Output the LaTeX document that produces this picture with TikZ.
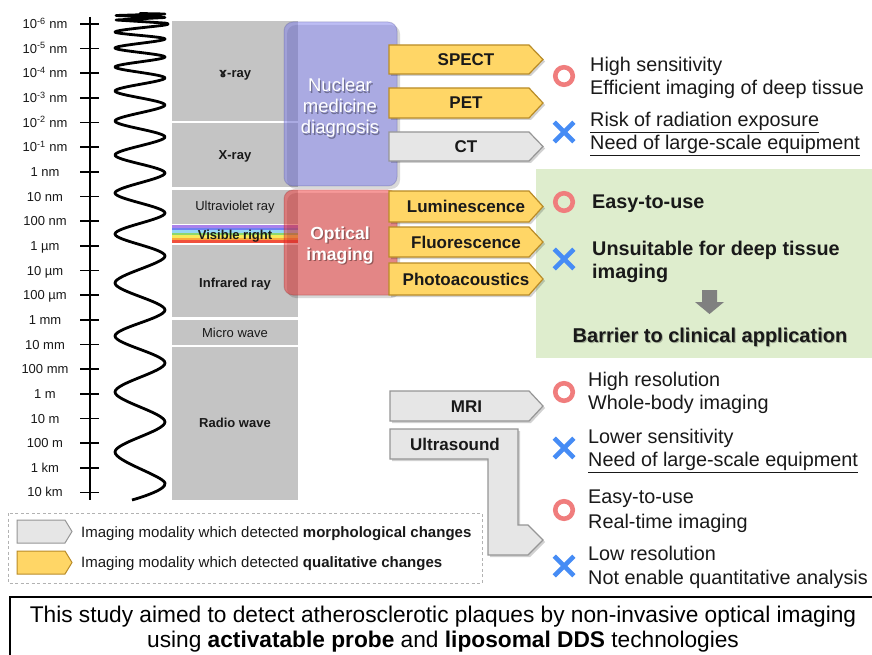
\documentclass[tikz,border=0pt]{standalone}
\usepackage{fontspec}
\setmainfont{Liberation Sans}
\newfontfamily\dejavu{DejaVu Sans}
\usetikzlibrary{shapes.misc}
\definecolor{specgrey}{RGB}{196,196,196}
\definecolor{nucblue}{RGB}{125,125,235}
\definecolor{optred}{RGB}{238,52,52}
\definecolor{tagyel}{RGB}{255,214,102}
\definecolor{tagyelb}{RGB}{185,140,40}
\definecolor{taggrey}{RGB}{230,230,230}
\definecolor{taggreyb}{RGB}{150,150,150}
\definecolor{ringc}{RGB}{240,125,125}
\definecolor{crossc}{RGB}{70,140,245}
\definecolor{greenbox}{RGB}{222,237,205}
\definecolor{txt}{RGB}{25,25,25}
\definecolor{arrowgrey}{RGB}{128,128,128}
\definecolor{rbA}{RGB}{170,130,235}
\definecolor{rbB}{RGB}{110,130,240}
\definecolor{rbC}{RGB}{150,215,245}
\definecolor{rbD}{RGB}{140,215,110}
\definecolor{rbE}{RGB}{245,235,90}
\definecolor{rbF}{RGB}{250,170,60}
\definecolor{rbG}{RGB}{240,80,60}
\newcommand{\fsz}[2]{\fontsize{#1}{#2}\selectfont}
% tag arrow: name, xleft, ytop, ybot, style, text
\newcommand{\mtag}[6]{%
  \fill[black,opacity=0.18] (#2+2,#3+2) -- (531,#3+2) -- (545,{(#3+#4)/2+2}) -- (531,#4+2) -- (#2+2,#4+2) -- cycle;
  \filldraw[#5] (#2,#3) -- (529,#3) -- (543,{(#3+#4)/2}) -- (529,#4) -- (#2,#4) -- cycle;
  \node[tagtext] (#1) at ({(#2+543)/2},{(#3+#4)/2+6}) {#6};
}
\begin{document}
\begin{tikzpicture}[x=1pt,y=-1pt,
  axlab/.style={anchor=base, font=\fsz{13}{15}, text=txt, inner sep=0},
  speclab/.style={anchor=base, font=\fsz{13}{15}, text=txt, inner sep=0},
  speclabb/.style={anchor=base, font=\fsz{13}{15}\bfseries, text=txt, inner sep=0},
  tagtext/.style={anchor=base, font=\fsz{17}{20}\bfseries, text=txt, inner sep=0},
  yeltag/.style={fill=tagyel, draw=tagyelb, line width=1.2pt, line join=miter},
  greytag/.style={fill=taggrey, draw=taggreyb, line width=1.2pt, line join=miter},
  bigtext/.style={anchor=base, font=\fsz{18.5}{21}, text=white, inner sep=0},
  bigtextb/.style={anchor=base, font=\fsz{17.5}{21}\bfseries, text=white, inner sep=0},
  bigshadow/.style={text=black, opacity=0.35},
  rtext/.style={anchor=base west, font=\fsz{19.8}{23}, text=txt, inner sep=0},
  rtextb/.style={anchor=base west, font=\fsz{19.8}{23}\bfseries, text=txt, inner sep=0},
  ringmark/.style={circle, draw=ringc, line width=4.6pt, minimum size=17.5pt, inner sep=0},
  crossmark/.style={cross out, draw=crossc, line width=4.6pt, minimum size=15pt, inner sep=0},
  legtext/.style={anchor=base west, font=\fsz{15}{17}, text=txt, inner sep=0},
  foottext/.style={anchor=base, font=\fsz{22.7}{26}, text=black, inner sep=0}]
\useasboundingbox (0,0) rectangle (872,655);
\fill[white] (0,0) rectangle (872,655);

% ---------- wavelength axis ----------
\coordinate (axtop) at (90,17);
\coordinate (axbot) at (90,500);
\draw[line width=1.8pt] (axtop) -- (axbot);
\foreach \lab [count=\i from 0] in {10\textsuperscript{-6} nm,10\textsuperscript{-5} nm,10\textsuperscript{-4} nm,10\textsuperscript{-3} nm,10\textsuperscript{-2} nm,10\textsuperscript{-1} nm,1 nm,10 nm,100 nm,1 µm,10 µm,100 µm,1 mm,10 mm,100 mm,1 m,10 m,100 m,1 km,10 km}{
  \pgfmathsetmacro{\yy}{24+24.65*\i}
  \draw[line width=1.6pt] (80,\yy) -- (99,\yy);
  \node[axlab] (ax\i) at (45,\yy+4.6) {\lab};
}

% ---------- wave ----------
\draw[line width=2.8pt, line join=round, line cap=round] (140,13.5) -- (165,14) -- (116,15.5) -- (165,17.5) -- (116,20) -- (164,23);
\draw[line width=2.8pt, line join=round] plot[smooth, tension=0.55] coordinates {
 (164,23) (165,25) (115,32) (165,39) (115,48) (165,57)
 (115,67) (165,78) (115,91) (165,105) (115,121) (165,137) (115,155) (165,173) (115,193)
 (165,213) (115,234) (165,256) (115,283) (165,310) (115,336) (165,363) (115,392)
 (165,422) (115,452) (165,483) (132,500)};

% ---------- spectrum column ----------
\fill[specgrey] (172,21) rectangle (298,121);
\fill[specgrey] (172,123) rectangle (298,187);
\fill[specgrey] (172,190) rectangle (298,224);
\foreach \c [count=\k from 0] in {rbA,rbB,rbC,rbD,rbE,rbF,rbG}
  \fill[\c] (172,{225+\k*2.57}) rectangle (298,{225+(\k+1)*2.57+0.15});
\fill[specgrey] (172,245) rectangle (298,317);
\fill[specgrey] (172,320) rectangle (298,345);
\fill[specgrey] (172,347) rectangle (298,500);

\node[speclabb] (gam) at (235,78) {{\dejavu ɤ}-ray};
\node[speclabb] (xray) at (235,160) {X-ray};
\node[speclab] (uv) at (235,211) {Ultraviolet ray};
\node[speclabb] (vis) at (235,239) {Visible right};
\node[speclabb] (ir) at (235,287) {Infrared ray};
\node[speclab] (mw) at (235,337) {Micro wave};
\node[speclabb] (rw) at (235,427) {Radio wave};

% ---------- nuclear medicine box ----------
\fill[black, opacity=0.15, rounded corners=9] (287,25) rectangle (400,189);
\fill[nucblue, opacity=0.5, rounded corners=9] (284,22) rectangle (397,186);
\draw[nucblue!60!black, opacity=0.25, line width=1pt, rounded corners=9] (284,22) rectangle (397,186);
\node[bigtext, bigshadow] (nuc1s) at (341.3,93.3) {Nuclear};
\node[bigtext, bigshadow] (nuc2s) at (341.3,114.3) {medicine};
\node[bigtext, bigshadow] (nuc3s) at (341.3,135.3) {diagnosis};
\node[bigtext] (nuc1) at (340,92) {Nuclear};
\node[bigtext] (nuc2) at (340,113) {medicine};
\node[bigtext] (nuc3) at (340,134) {diagnosis};

% ---------- optical imaging box ----------
\fill[black, opacity=0.15, rounded corners=9] (287,193) rectangle (400,298);
\fill[optred, opacity=0.5, rounded corners=9] (284,190) rectangle (397,295);
\draw[optred!60!black, opacity=0.25, line width=1pt, rounded corners=9] (284,190) rectangle (397,295);
\node[bigtextb, bigshadow] (opt1s) at (341.3,240.3) {Optical};
\node[bigtextb, bigshadow] (opt2s) at (341.3,261.3) {imaging};
\node[bigtextb] (opt1) at (340,239) {Optical};
\node[bigtextb] (opt2) at (340,260) {imaging};

% ---------- green box ----------
\fill[greenbox] (536,169) rectangle (872,358);

% ---------- tags ----------
\mtag{spect}{389}{45}{74}{yeltag}{SPECT}
\mtag{pet}{389}{88}{118}{yeltag}{PET}
\mtag{ct}{389}{132}{161}{greytag}{CT}
\mtag{lum}{389}{191}{222}{yeltag}{Luminescence}
\mtag{flu}{389}{227}{257}{yeltag}{Fluorescence}
\mtag{pho}{389}{263}{295}{yeltag}{Photoacoustics}
\mtag{mri}{390}{391}{421}{greytag}{MRI}
% ultrasound L-shaped arrow
\fill[black,opacity=0.18] (392,431) -- (520,431) -- (520,527) -- (530,527) -- (545,542) -- (530,557) -- (490,557) -- (490,461) -- (392,461) -- cycle;
\filldraw[greytag] (390,429) -- (518,429) -- (518,525) -- (528,525) -- (543,540) -- (528,555) -- (488,555) -- (488,459) -- (390,459) -- cycle;
\node[tagtext] (us) at (455,450) {Ultrasound};

% ---------- marks and texts: nuclear ----------
\node[ringmark] (o1) at (564,76) {};
\node[crossmark] (x1) at (564,132) {};
\node[rtext] (t1a) at (590,71.5) {High sensitivity};
\node[rtext] (t1b) at (590,94.5) {Efficient imaging of deep tissue};
\node[rtext] (t2a) at (590,126.5) {\underline{Risk of radiation exposure}};
\node[rtext] (t2b) at (590,149.5) {\underline{Need of large-scale equipment}};

% ---------- optical ----------
\node[ringmark] (o2) at (564,202) {};
\node[crossmark] (x2) at (564,259) {};
\node[rtextb] (t3) at (592,208.5) {Easy-to-use};
\node[rtextb] (t4a) at (592,255.5) {Unsuitable for deep tissue};
\node[rtextb] (t4b) at (592,278.5) {imaging};
\fill[arrowgrey] (702,290) -- (717,290) -- (717,302) -- (724,302) -- (709.5,314) -- (695,302) -- (702,302) -- cycle;
\node[anchor=base, font=\fsz{20}{23}\bfseries, text=black, opacity=0.25, inner sep=0] (bars) at (711,343) {Barrier to clinical application};
\node[anchor=base, font=\fsz{20}{23}\bfseries, text=txt, inner sep=0] (bar) at (710,342) {Barrier to clinical application};

% ---------- MRI / ultrasound ----------
\node[ringmark] (o3) at (564,392) {};
\node[crossmark] (x3) at (564,448) {};
\node[ringmark] (o4) at (564,510) {};
\node[crossmark] (x4) at (564,566) {};
\node[rtext] (t5a) at (588,386.5) {High resolution};
\node[rtext] (t5b) at (588,409.5) {Whole-body imaging};
\node[rtext] (t6a) at (588,443.5) {Lower sensitivity};
\node[rtext] (t6b) at (588,466.5) {\underline{Need of large-scale equipment}};
\node[rtext] (t7a) at (588,503.5) {Easy-to-use};
\node[rtext] (t7b) at (588,528) {Real-time imaging};
\node[rtext] (t8a) at (588,560.5) {Low resolution};
\node[rtext] (t8b) at (588,584.5) {Not enable quantitative analysis};

% ---------- legend ----------
\draw[draw=black!30, line width=1pt, dash pattern=on 3pt off 2.5pt] (8,513) rectangle (482,583);
\filldraw[greytag, line width=1pt] (17,520) -- (65,520) -- (72,531.5) -- (65,543) -- (17,543) -- cycle;
\filldraw[yeltag, line width=1pt] (17,551) -- (65,551) -- (72,562.5) -- (65,574) -- (17,574) -- cycle;
\node[legtext] (leg1) at (81,537) {Imaging modality which detected \textbf{morphological changes}};
\node[legtext] (leg2) at (81,567) {Imaging modality which detected \textbf{qualitative changes}};

% ---------- footer ----------
\draw[line width=1.2pt] (10,662) -- (10,597) -- (872,597);
\node[foottext] (f1) at (443,622) {This study aimed to detect atherosclerotic plaques by non-invasive optical imaging};
\node[foottext] (f2) at (443,647) {using \textbf{activatable probe} and \textbf{liposomal DDS} technologies};
\end{tikzpicture}
\end{document}
